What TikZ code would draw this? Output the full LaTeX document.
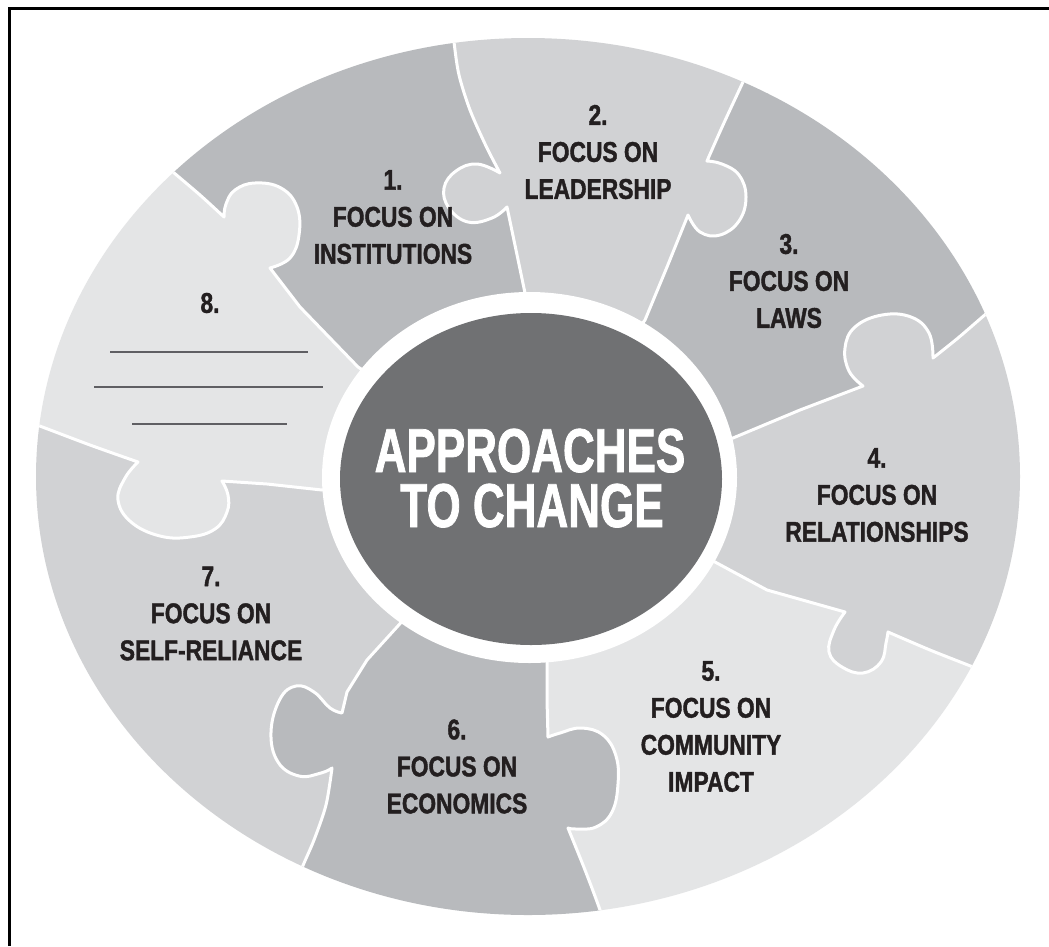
\documentclass[tikz,border=0pt]{standalone}
\usepackage{fontspec}
\usetikzlibrary{calc}
\newfontfamily\lblfont[FakeStretch=0.80,FakeBold=1.4]{Liberation Sans}
\newfontfamily\ctrfont[FakeStretch=0.71,FakeBold=1.2]{Liberation Sans}
\definecolor{pmed}{HTML}{B8BABD}
\definecolor{plight}{HTML}{D1D2D4}
\definecolor{plighter}{HTML}{E4E5E6}
\definecolor{hub}{HTML}{707173}
\definecolor{txt}{HTML}{231F20}
\definecolor{blankln}{HTML}{5F5F63}
\newcommand\puzzlepiece[5]{%
  \begin{scope}
    \clip (C) [#1] -- ($(C)+(#2:1500)$) -- ($(C)+(#2+45:1500)$) -- ($(C)+(#2+90:1500)$) -- ($(C)+(#2+135:1500)$) -- cycle;
    \clip (C) [#3] -- ($(C)+(#4:1500)$) -- ($(C)+(#4-45:1500)$) -- ($(C)+(#4-90:1500)$) -- ($(C)+(#4-135:1500)$) -- cycle;
    \fill[#5] (O) ellipse [x radius=492, y radius=438.5];
  \end{scope}}
\begin{document}
\begin{tikzpicture}[x=1pt,y=-1pt,
  lbl/.style={font=\lblfont\bfseries\fontsize{28.5}{37}\selectfont, text=txt, align=center, inner sep=0pt},
  ctr/.style={font=\ctrfont\bfseries\fontsize{62}{55}\selectfont, text=white, inner sep=0pt},
  divline/.style={draw=white, line width=3pt, line join=round},
  blank/.style={draw=blankln, line width=1.8pt},
  d12/.style={insert path={-- (525,293) -- (516,250) -- (507,207)
    -- plot[smooth,tension=.7] coordinates {(507,207) (492,218) (468,222) (449,208) (444,188) (456,171) (477,164) (500,173)}
    -- plot[smooth,tension=.5] coordinates {(500,173) (486,146) (470,110) (459,75) (454,42) (451,10)}}},
  d23/.style={insert path={-- (645,320) -- (667,267) -- (688,215)
    -- plot[smooth,tension=.7] coordinates {(688,215) (700,232) (720,235) (739,221) (746,197) (739,175) (722,164) (707,161)}
    -- plot[smooth,tension=.5] coordinates {(707,161) (723,125) (743,82) (756,55)}}},
  d34/.style={insert path={-- (733,438) -- (800,410) -- (863,386)
    -- plot[smooth,tension=.7] coordinates {(863,386) (849,371) (845,348) (855,327) (882,315) (911,317) (929,333) (933,358)}
    -- plot[smooth,tension=.5] coordinates {(933,358) (958,338) (987,313) (1012,292)}}},
  d45/.style={insert path={-- (715,562) -- (767,590) -- (845,612)
    -- plot[smooth,tension=.7] coordinates {(845,612) (834,630) (829,652) (842,667) (863,673) (881,662) (886,643) (888,632)}
    -- plot[smooth,tension=.5] coordinates {(888,632) (930,650) (973,667) (1000,678)}}},
  d56/.style={insert path={-- (547,662) -- (547,700) -- (548,737)
    -- plot[smooth,tension=.7] coordinates {(548,737) (560,733) (581,728) (603,735) (616,756) (618,784) (612,812) (596,827) (576,829) (568,828)}
    -- plot[smooth,tension=.5] coordinates {(568,828) (585,870) (600,910) (607,935)}}},
  d67/.style={insert path={-- (397,627) -- (367,660) -- (347,692) -- (342,713)
    -- plot[smooth,tension=.7] coordinates {(342,713) (330,708) (314,692) (296,686) (280,699) (271,732) (278,762) (299,776) (321,773) (332,768)}
    -- plot[smooth,tension=.5] coordinates {(332,768) (326,805) (314,840) (302,868) (293,895)}}},
  d78/.style={insert path={-- (322,490) -- (267,484) -- (222,481)
    -- plot[smooth,tension=.7] coordinates {(222,481) (228,495) (227,512) (215,529) (190,537) (160,536) (131,522) (118,500) (125,478) (138,462)}
    -- plot[smooth,tension=.5] coordinates {(138,462) (90,445) (37,425) (8,415)}}},
  d81/.style={insert path={-- (358,367) -- (300,307) -- (270,268)
    -- plot[smooth,tension=.7] coordinates {(270,268) (290,258) (299,235) (297,207) (281,188) (255,183) (235,190) (226,204) (224,217)}
    -- plot[smooth,tension=.5] coordinates {(224,217) (200,195) (173,172) (150,152)}}}
]
\useasboundingbox (0,0) rectangle (1049,946);
\fill[white] (0,0) rectangle (1049,946);
\coordinate (C) at (530,478);
\coordinate (O) at (528,476.5);

% puzzle pieces
\puzzlepiece{d81}{-139.4}{d12}{-99.8}{pmed}
\puzzlepiece{d12}{-99.8}{d23}{-61.8}{plight}
\puzzlepiece{d23}{-61.8}{d34}{-19.6}{pmed}
\puzzlepiece{d34}{-19.6}{d45}{23.3}{plight}
\puzzlepiece{d45}{23.3}{d56}{80.8}{plighter}
\puzzlepiece{d56}{80.8}{d67}{120.3}{pmed}
\puzzlepiece{d67}{120.3}{d78}{186.1}{plight}
\puzzlepiece{d78}{186.1}{d81}{220.6}{plighter}

% white seams between pieces
\begin{scope}
  \clip (O) ellipse [x radius=492, y radius=438.5];
  \draw[divline] (C) [d12];
  \draw[divline] (C) [d23];
  \draw[divline] (C) [d34];
  \draw[divline] (C) [d45];
  \draw[divline] (C) [d56];
  \draw[divline] (C) [d67];
  \draw[divline] (C) [d78];
  \draw[divline] (C) [d81];
\end{scope}

% hub
\fill[white] (529.5,477.5) ellipse [x radius=207.5, y radius=185.5];
\fill[hub] (531,479) ellipse [x radius=191, y radius=166];
\node[ctr, anchor=base] (hubtop) at (530,472) {APPROACHES};
\node[ctr, anchor=base] (hubbot) at (532,527) {TO CHANGE};

% labels
\node[lbl] (t1) at (393,217) {1.\\FOCUS ON\\INSTITUTIONS};
\node[lbl] (t2) at (598,152) {2.\\FOCUS ON\\LEADERSHIP};
\node[lbl] (t3) at (789,281) {3.\\FOCUS ON\\LAWS};
\node[lbl] (t4) at (877,495) {4.\\FOCUS ON\\RELATIONSHIPS};
\node[lbl] (t5) at (711,726.5) {5.\\FOCUS ON\\COMMUNITY\\IMPACT};
\node[lbl] (t6) at (457,766.5) {6.\\FOCUS ON\\ECONOMICS};
\node[lbl] (t7) at (211,613.5) {7.\\FOCUS ON\\SELF-RELIANCE};
\node[lbl] (t8) at (210,303) {8.};

% blank lines in piece 8
\draw[blank] (110,352) -- (308,352);
\draw[blank] (94,387) -- (323,387);
\draw[blank] (132,424) -- (287,424);

% frame (left and top only)
\draw[line width=3pt] (9.5,946) -- (9.5,8) -- (1049,8);
\end{tikzpicture}
\end{document}
